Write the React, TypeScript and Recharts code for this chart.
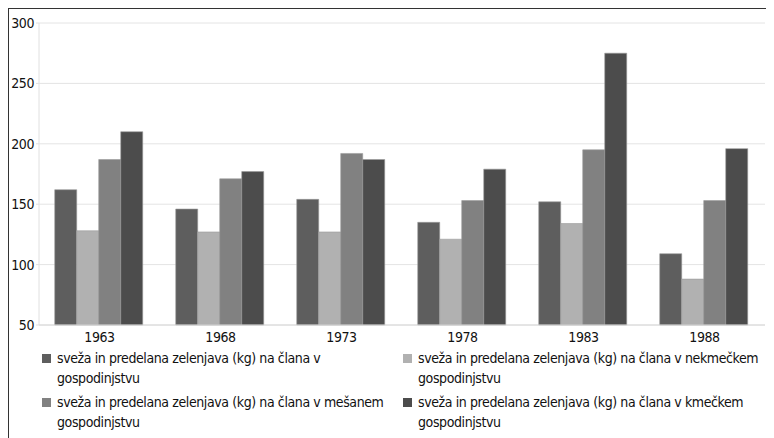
import { BarChart, Bar, XAxis, YAxis, CartesianGrid, Legend } from 'recharts';

const years = ['1963', '1968', '1973', '1978', '1983', '1988'];
const vsehGospodinjstev = [162, 146, 154, 135, 152, 109];
const nekmeckih = [128, 127, 127, 121, 134, 88];
const mesanih = [187, 171, 192, 153, 195, 153];
const kmeckih = [210, 177, 187, 179, 275, 196];
const yTicks = [50, 100, 150, 200, 250, 300];

const series = [
  { key: 'vsa', name: 'sveža in predelana zelenjava (kg) na člana v gospodinjstvu', color: '#5e5e5e' },
  { key: 'nekmecka', name: 'sveža in predelana zelenjava (kg) na člana v nekmečkem gospodinjstvu', color: '#b1b1b1' },
  { key: 'mesana', name: 'sveža in predelana zelenjava (kg) na člana v mešanem gospodinjstvu', color: '#818181' },
  { key: 'kmecka', name: 'sveža in predelana zelenjava (kg) na člana v kmečkem gospodinjstvu', color: '#4c4c4c' },
];

const chartData = years.map((year, i) => ({
  year,
  vsa: vsehGospodinjstev[i],
  nekmecka: nekmeckih[i],
  mesana: mesanih[i],
  kmecka: kmeckih[i],
}));

const FONT = '"DejaVu Sans Condensed", "DejaVu Sans", sans-serif';
const tickStyle = { fill: '#111', fontSize: 14, fontFamily: FONT, letterSpacing: -0.4 };

// last word goes to its own line, like in the original legend
const splitName = (name: string) => {
  const i = name.lastIndexOf(' ');
  return [name.slice(0, i), name.slice(i + 1)];
};

const LegendBox = () => (
  <div
    style={{
      display: 'grid',
      gridTemplateColumns: '361px 360px',
      rowGap: 4,
      fontFamily: FONT,
      fontSize: 14,
      letterSpacing: -0.4,
      lineHeight: '20px',
      color: '#111',
      paddingLeft: 33,
      paddingTop: 3,
      textAlign: 'left',
    }}
  >
    {series.map((s) => {
      const [first, last] = splitName(s.name);
      return (
        <div key={s.key} style={{ display: 'flex', alignItems: 'flex-start' }}>
          <span
            style={{
              display: 'inline-block',
              width: 9,
              height: 9,
              background: s.color,
              marginTop: 6,
              marginRight: 6,
              flex: 'none',
            }}
          />
          <span style={{ whiteSpace: 'nowrap' }}>
            {first}
            <br />
            {last}
          </span>
        </div>
      );
    })}
  </div>
);

const App = () => {
  return (
    <div style={{ width: 766, height: 430, overflow: 'hidden' }}>
      <div style={{ width: 800, height: 460, border: '1px solid #333', boxSizing: 'border-box' }}>
        <BarChart
          width={760}
          height={423}
          data={chartData}
          margin={{ top: 14, right: 4, left: 0, bottom: 0 }}
          barCategoryGap="13%"
          barGap={0}
        >
          <CartesianGrid vertical={false} stroke="#e4e4e4" />
          <XAxis
            dataKey="year"
            stroke="#d8d8d8"
            tickLine={false}
            tick={tickStyle}
            tickMargin={1}
            height={20}
          />
          <YAxis
            domain={[50, 300]}
            ticks={yTicks}
            width={30}
            stroke="#e0e0e0"
            tickSize={3}
            tick={tickStyle}
          />
          <Legend verticalAlign="bottom" content={() => <LegendBox />} />
          {series.map((s) => (
            <Bar
              key={s.key}
              dataKey={s.key}
              name={s.name}
              fill={s.color}
              stroke="#9a9a9a"
              strokeWidth={0.6}
              isAnimationActive={false}
            />
          ))}
        </BarChart>
      </div>
    </div>
  );
};

export default App;
